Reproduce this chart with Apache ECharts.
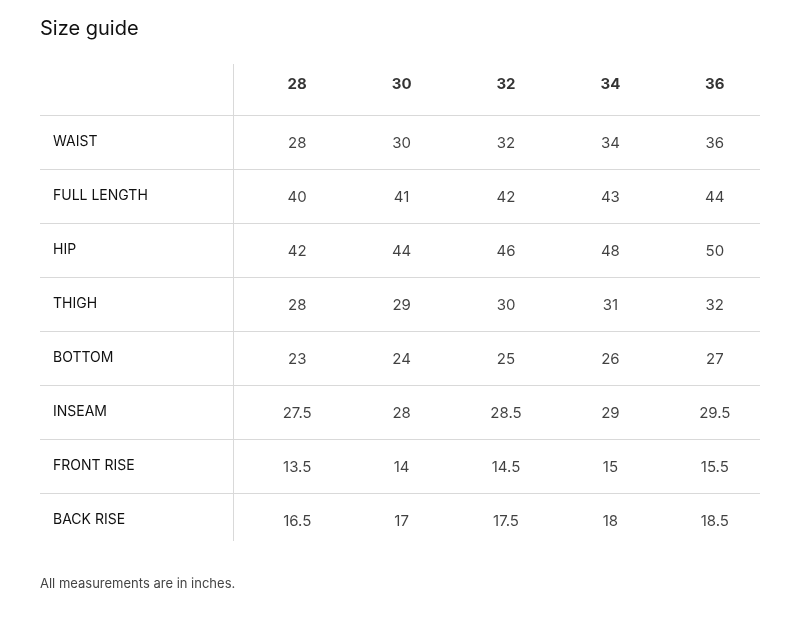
<!DOCTYPE html>
<html>
<head>
<meta charset="utf-8">
<title>Size guide</title>
<script src="https://cdn.jsdelivr.net/npm/echarts@6/dist/echarts.min.js"></script>
<style>html,body{margin:0;background:#fff}#chart{width:800px;height:620px}</style>
</head>
<body>
<div id="chart"></div>
<script>
var sizes = ['28', '30', '32', '34', '36'];
var rows = ['WAIST', 'FULL LENGTH', 'HIP', 'THIGH', 'BOTTOM', 'INSEAM', 'FRONT RISE', 'BACK RISE'];
var waist = [28, 30, 32, 34, 36];
var fullLength = [40, 41, 42, 43, 44];
var hip = [42, 44, 46, 48, 50];
var thigh = [28, 29, 30, 31, 32];
var bottom = [23, 24, 25, 26, 27];
var inseam = [27.5, 28, 28.5, 29, 29.5];
var frontRise = [13.5, 14, 14.5, 15, 15.5];
var backRise = [16.5, 17, 17.5, 18, 18.5];
var values = [waist, fullLength, hip, thigh, bottom, inseam, frontRise, backRise];

var font = 'Inter, "Noto Sans", sans-serif';
var yCats = [''].concat(rows);

var cells = [];
values.forEach(function (vals, r) {
  vals.forEach(function (v, c) { cells.push([sizes[c], rows[r], v]); });
});
var header = sizes.map(function (s) { return [s, '', s]; });

var chart = echarts.init(document.getElementById('chart'));
chart.setOption({
  animation: false,
  title: [
    { text: 'Size guide', left: 35, top: 14, textStyle: { fontFamily: font, fontSize: 20, fontWeight: 'normal', color: '#111' } },
    { text: 'All measurements are in inches.', left: 35, top: 573, textStyle: { fontFamily: font, fontSize: 13, fontWeight: 'normal', color: '#444' } }
  ],
  grid: { left: 245, right: 33, top: 61, height: 486 },
  xAxis: [
    { type: 'category', data: sizes, show: false },
    { type: 'value', min: 0, max: 1, show: false }
  ],
  yAxis: [
    {
      type: 'category', data: yCats, inverse: true,
      axisLine: { show: false }, axisTick: { show: false }, splitLine: { show: false },
      axisLabel: { align: 'left', margin: 192, padding: [5, 0, 0, 0], fontFamily: font, fontSize: 14, color: '#111' }
    },
    { type: 'value', min: 0, max: 9, inverse: true, show: false }
  ],
  series: [
    {
      type: 'custom', xAxisIndex: 1, yAxisIndex: 1, clip: false, silent: true,
      data: [1, 2, 3, 4, 5, 6, 7, 8],
      renderItem: function (params, api) {
        var y = Math.round(api.coord([0, api.value(0)])[1]) + 0.5;
        var cs = params.coordSys;
        return { type: 'line', shape: { x1: cs.x - 205, y1: y, x2: cs.x + cs.width - 7, y2: y }, style: { stroke: '#d9d9d9', lineWidth: 1 } };
      }
    },
    {
      type: 'custom', xAxisIndex: 1, yAxisIndex: 1, clip: false, silent: true,
      data: [[0, 0]],
      renderItem: function (params, api) {
        var cs = params.coordSys;
        var x = cs.x - 11.5;
        return { type: 'line', shape: { x1: x, y1: api.coord([0, 0])[1] + 3, x2: x, y2: api.coord([0, 9])[1] - 6 }, style: { stroke: '#d9d9d9', lineWidth: 1 } };
      }
    },
    {
      type: 'scatter', symbolSize: 0, data: header, silent: true,
      label: { show: true, position: 'inside', offset: [0, -4], formatter: function (p) { return p.value[2]; }, fontFamily: font, fontSize: 15, fontWeight: 'bold', color: '#000' }
    },
    {
      type: 'scatter', symbolSize: 0, data: cells, silent: true,
      label: { show: true, position: 'inside', offset: [0, 1], formatter: function (p) { return p.value[2]; }, fontFamily: font, fontSize: 15, color: '#111' }
    }
  ]
});
</script>
</body>
</html>
